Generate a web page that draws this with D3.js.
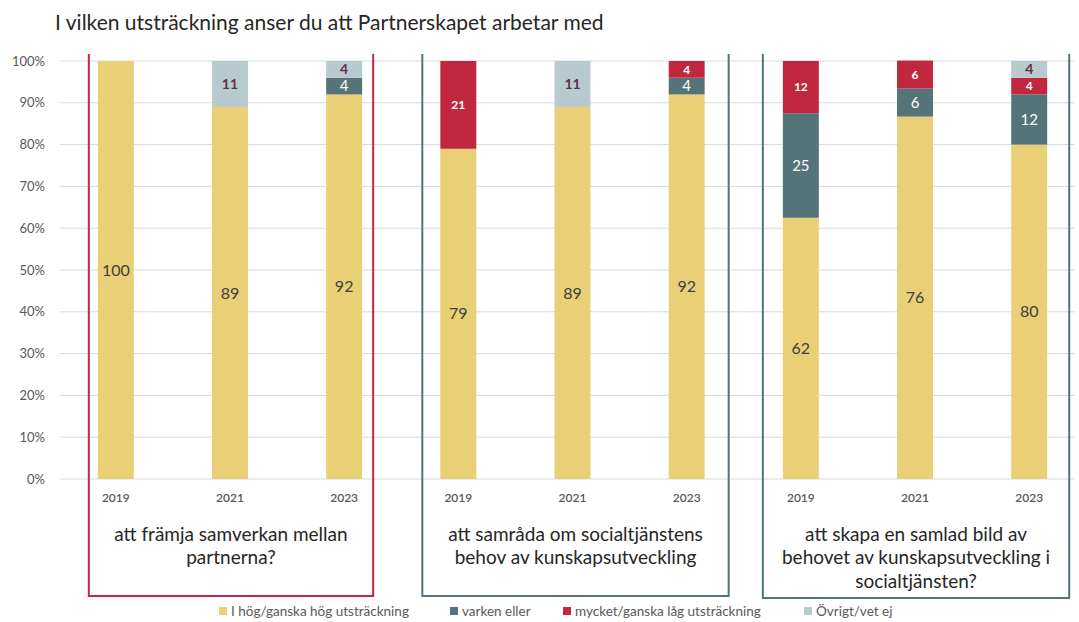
<!DOCTYPE html>
<html lang="sv">
<head>
<meta charset="utf-8">
<title>Partnerskapet</title>
<script src="https://cdn.jsdelivr.net/npm/d3@7"></script>
<style>
  body { margin: 0; background: #fff; }
  text { font-family: Lato, "Open Sans", sans-serif; }
</style>
</head>
<body>
<svg id="chart"></svg>
<script>
// data
const years = ["2019", "2021", "2023"];
const panels = [
  ["att främja samverkan mellan", "partnerna?"],
  ["att samråda om socialtjänstens", "behov av kunskapsutveckling"],
  ["att skapa en samlad bild av", "behovet av kunskapsutveckling i", "socialtjänsten?"]
];
const seriesNames = ["I hög/ganska hög utsträckning", "varken eller", "mycket/ganska låg utsträckning", "Övrigt/vet ej"];
// bar heights in percent, one entry per panel/year
const hog    = [100, 89, 92,   79, 89, 92,   62.5, 86.7, 80];
const varken = [0,   0,  4,    0,  0,  4,    25,   6.7,  12];
const lag    = [0,   0,  0,    21, 0,  4,    12.5, 6.7,  4];
const ovrigt = [0,   11, 4,    0,  11, 0,    0,    0,    4];
// labels as printed on the bars
const hogLabels    = ["100", "89", "92", "79", "89", "92", "62", "76", "80"];
const varkenLabels = ["", "", "4", "", "", "4", "25", "6", "12"];
const lagLabels    = ["", "", "", "21", "", "4", "12", "6", "4"];
const ovrigtLabels = ["", "11", "4", "", "11", "", "", "", "4"];
const yTicks = [0, 10, 20, 30, 40, 50, 60, 70, 80, 90, 100];

const width = 1079, height = 622;
const colors = ["#E9CF76", "#54747A", "#C1283F", "#B7CBCF"];
const labelStyle = [
  {fill: "#404040", size: 16, weight: 400},
  {fill: "#ffffff", size: 15, weight: 400},
  {fill: "#ffffff", size: 12, weight: 700},
  {fill: "#6B2C45", size: 14, weight: 700}
];

const svg = d3.select("#chart").attr("width", width).attr("height", height);

const cats = [];
panels.forEach((p, i) => years.forEach(y => cats.push(i + "-" + y)));

const x = d3.scaleBand().domain(cats).range([59, 1086]).paddingInner(0.685).paddingOuter(0.34);
const y = d3.scaleLinear().domain([0, 100]).range([479, 61]);

// title
svg.append("text")
  .attr("x", 55).attr("y", 30)
  .style("font-size", "21px").attr("fill", "#262626")
  .text("I vilken utsträckning anser du att Partnerskapet arbetar med");

// grid + y axis
svg.append("g").selectAll("line").data(yTicks).join("line")
  .attr("x1", 60).attr("x2", 1075)
  .attr("y1", d => y(d)).attr("y2", d => y(d))
  .attr("stroke", "#d9d9d9").attr("stroke-width", 1);

svg.append("g").selectAll("text").data(yTicks).join("text")
  .attr("x", 45).attr("y", d => y(d)).attr("dy", "0.35em")
  .attr("text-anchor", "end")
  .style("font-size", "13px").attr("fill", "#595959")
  .text(d => d + "%");

// stacked bars
const rows = cats.map((c, i) => ({cat: c, vals: [hog[i], varken[i], lag[i], ovrigt[i]],
  labels: [hogLabels[i], varkenLabels[i], lagLabels[i], ovrigtLabels[i]]}));

const stack = d3.stack().keys([0, 1, 2, 3]).value((d, k) => d.vals[k]);
const layers = stack(rows);

const gBars = svg.append("g");
layers.forEach((layer, k) => {
  gBars.append("g").selectAll("rect").data(layer.filter(d => d.data.vals[k] > 0)).join("rect")
    .attr("x", d => x(d.data.cat))
    .attr("width", x.bandwidth())
    .attr("y", d => y(d[1]))
    .attr("height", d => y(d[0]) - y(d[1]))
    .attr("fill", colors[k]);
});
layers.forEach((layer, k) => {
  const st = labelStyle[k];
  gBars.append("g").selectAll("text").data(layer.filter(d => d.data.labels[k] !== "")).join("text")
    .attr("x", d => x(d.data.cat) + x.bandwidth() / 2)
    .attr("y", d => y((d[0] + d[1]) / 2))
    .attr("dy", "0.35em")
    .attr("text-anchor", "middle")
    .style("font-size", st.size + "px").style("font-weight", st.weight)
    .attr("fill", st.fill)
    .text(d => d.data.labels[k]);
});

// year labels
svg.append("g").selectAll("text").data(cats).join("text")
  .attr("x", d => x(d) + x.bandwidth() / 2).attr("y", 498).attr("dy", "0.35em")
  .attr("text-anchor", "middle")
  .style("font-size", "12px").style("font-weight", 600).attr("fill", "#595959")
  .text(d => d.split("-")[1]);

// panel frames and titles
const boxColors = ["#C1283F", "#54747A", "#54747A"];
const boxPad = [[27, 29], [36, 42], [38, 40]];
const boxBottom = [596, 596, 598];
panels.forEach((lines, i) => {
  const c0 = x(i + "-" + years[0]) + x.bandwidth() / 2;
  const c2 = x(i + "-" + years[2]) + x.bandwidth() / 2;
  const x0 = c0 - boxPad[i][0], x1 = c2 + boxPad[i][1];
  svg.append("path")
    .attr("d", `M${x0},54 V${boxBottom[i]} H${x1} V54`)
    .attr("fill", "none").attr("stroke", boxColors[i]).attr("stroke-width", 2);
  svg.append("g").selectAll("text").data(lines).join("text")
    .attr("x", (x0 + x1) / 2).attr("y", (d, j) => 534 + j * 23.5).attr("dy", "0.35em")
    .attr("text-anchor", "middle")
    .style("font-size", "19px").attr("fill", "#262626")
    .text(d => d);
});

// legend (slightly higher than the reference so it is not clipped)
const legendX = [219, 450, 563, 804];
const lg = svg.append("g").selectAll("g").data(seriesNames).join("g")
  .attr("transform", (d, i) => `translate(${legendX[i]},611)`);
lg.append("rect").attr("x", 0).attr("y", -4).attr("width", 8).attr("height", 8)
  .attr("fill", (d, i) => colors[i]);
lg.append("text").attr("x", 12).attr("dy", "0.35em")
  .style("font-size", "13.5px").attr("fill", "#595959")
  .text(d => d);
</script>
</body>
</html>
